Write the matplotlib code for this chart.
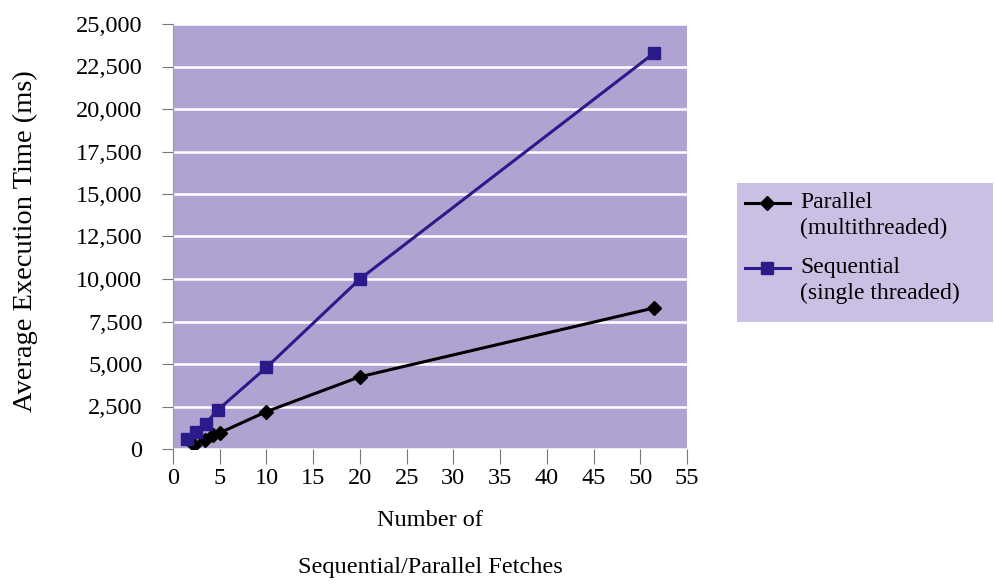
import matplotlib
matplotlib.use("Agg")
import matplotlib.pyplot as plt
from matplotlib.lines import Line2D
from matplotlib.patches import Rectangle
from matplotlib.ticker import FuncFormatter

# values
par_x = [2.2, 3.4, 4.3, 5.0, 10, 20, 51.5]
par_y = [250, 550, 800, 950, 2200, 4250, 8300]
seq_x = [1.5, 2.5, 3.5, 4.8, 10, 20, 51.5]
seq_y = [600, 1000, 1500, 2300, 4800, 10000, 23300]

x_ticks = list(range(0, 56, 5))
y_ticks = list(range(0, 25001, 2500))

PLOT_BG = "#b1a3d1"
LEGEND_BG = "#c9c0e3"
SEQ = "#2b1a8a"
W, H = 994, 585

plt.rcParams["font.family"] = ["Liberation Serif", "DejaVu Serif"]


def fx(px):
    return px / W


def fy(py):
    return 1 - py / H


fig = plt.figure(figsize=(9.94, 5.85), dpi=100)
ax = fig.add_axes([fx(173), fy(449), fx(687 - 173), (449 - 24) / H])
ax.set_facecolor(PLOT_BG)

ax.plot(par_x, par_y, color="black", lw=2.2, marker="D", ms=7.5, zorder=3)
ax.plot(seq_x, seq_y, color=SEQ, lw=2.2, marker="s", ms=8, zorder=3)

ax.set_xlim(0, 55)
ax.set_ylim(0, 25000)
ax.set_xticks(x_ticks)
ax.set_yticks(y_ticks)
ax.yaxis.set_major_formatter(FuncFormatter(lambda v, _: f"{int(v):,}"))
ax.grid(axis="y", color="white", lw=1.8)
ax.set_axisbelow(True)
for s in ["top", "right", "bottom"]:
    ax.spines[s].set_visible(False)
ax.spines["left"].set_color("#999999")
ax.tick_params(axis="both", labelsize=17.5, color="#777777", direction="out")
ax.tick_params(axis="x", length=11, pad=3)
ax.tick_params(axis="y", length=8, pad=14)

ax.set_ylabel("Average Execution Time (ms)", fontsize=20.5)
ax.yaxis.set_label_coords((38 - 173) / 514, 0.49)
fig.text(fx(430), fy(520), "Number of", ha="center", va="center", fontsize=17.5)
fig.text(fx(430), fy(567), "Sequential/Parallel Fetches", ha="center",
         va="center", fontsize=17.5)

# legend box, drawn in figure coordinates
fig.patches.append(Rectangle((fx(737), fy(322)), fx(993 - 737), (322 - 183) / H,
                             transform=fig.transFigure, facecolor=LEGEND_BG,
                             edgecolor="none", zorder=0))
entries = [("black", "D", 7.5, 203, "Parallel", "(multithreaded)"),
           (SEQ, "s", 8, 268, "Sequential", "(single threaded)")]
for color, mk, ms, y, line1, line2 in entries:
    fig.lines.append(Line2D([fx(745), fx(790)], [fy(y), fy(y)], color=color,
                            lw=2.2, transform=fig.transFigure))
    fig.lines.append(Line2D([fx(767)], [fy(y)], color=color, marker=mk, ms=ms,
                            transform=fig.transFigure))
    fig.text(fx(800), fy(y), line1, ha="left", va="center", fontsize=17)
    fig.text(fx(800), fy(y + 25), line2, ha="left", va="center", fontsize=17)

fig.savefig("out.png", dpi=100)
